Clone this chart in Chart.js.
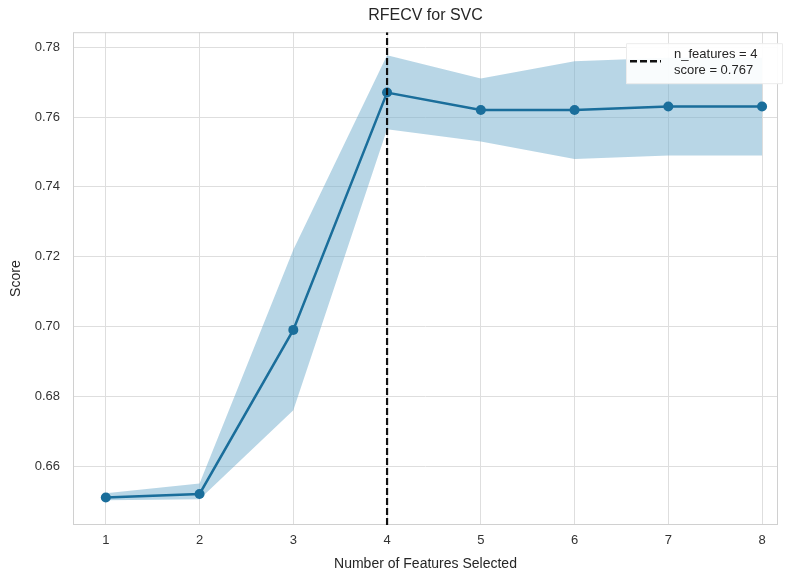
<!DOCTYPE html>
<html>
<head>
<meta charset="utf-8">
<script src="https://cdn.jsdelivr.net/npm/chart.js@4.4.1/dist/chart.umd.min.js"></script>
<style>
  html, body { margin: 0; padding: 0; background: #fff; }
  #wrap { width: 790px; height: 573px; }
</style>
</head>
<body>
<div id="wrap"><canvas id="rfecvChart"></canvas></div>
<script>
// Values
const features = [1, 2, 3, 4, 5, 6, 7, 8];
const meanScores = [0.651, 0.652, 0.699, 0.767, 0.762, 0.762, 0.763, 0.763];
const upperScores = [0.6522, 0.655, 0.722, 0.7777, 0.771, 0.776, 0.777, 0.777];
const lowerScores = [0.6502, 0.6505, 0.676, 0.7565, 0.753, 0.748, 0.749, 0.749];
const yTicks = [0.66, 0.68, 0.70, 0.72, 0.74, 0.76, 0.78];
const bestN = 4;
const bestScore = 0.767;
const xLimits = [0.65, 8.17];
const yLimits = [0.6431, 0.7843];

const FONT = "'Liberation Sans', Arial, sans-serif";
const lineBlue = "#1a6e9b";
const bandFill = "rgba(113, 174, 205, 0.5)";

const toPoints = (ys) => features.map((x, i) => ({ x: x, y: ys[i] }));

// Legend box drawn inside the plot (top right)
const legendBox = {
    id: "legendBox",
    afterDraw(chart) {
        const ctx = chart.ctx;
        const area = chart.chartArea;
        const right = area.right + 4;
        const left = right - 156;
        const top = area.top + 11;
        const h = 40;
        ctx.save();
        ctx.fillStyle = "rgba(255,255,255,0.92)";
        ctx.strokeStyle = "#ececec";
        ctx.lineWidth = 1;
        ctx.beginPath();
        ctx.rect(left + 0.5, top + 0.5, right - left, h);
        ctx.fill();
        ctx.stroke();

        ctx.strokeStyle = "#111";
        ctx.lineWidth = 2.5;
        ctx.setLineDash([7, 3]);
        ctx.beginPath();
        ctx.moveTo(left + 4, top + 18);
        ctx.lineTo(left + 35, top + 18);
        ctx.stroke();
        ctx.setLineDash([]);

        ctx.fillStyle = "#262626";
        ctx.font = "13px " + FONT;
        ctx.textBaseline = "middle";
        ctx.textAlign = "left";
        ctx.fillText("n_features = " + bestN, left + 48, top + 11);
        ctx.fillText("score = " + bestScore.toFixed(3), left + 48, top + 27);
        ctx.restore();
    }
};

// Border around the plotting area
const plotBorder = {
    id: "plotBorder",
    beforeDatasetsDraw(chart) {
        const { ctx, chartArea: a } = chart;
        ctx.save();
        ctx.strokeStyle = "#d0d0d0";
        ctx.lineWidth = 1;
        ctx.strokeRect(a.left + 0.5, a.top + 0.5, a.width - 1, a.height - 1);
        ctx.restore();
    }
};

const ctx = document.getElementById("rfecvChart").getContext("2d");

new Chart(ctx, {
    type: "line",
    data: {
        datasets: [
            {
                label: "lower",
                data: toPoints(lowerScores),
                borderWidth: 0,
                pointRadius: 0,
                fill: false,
                tension: 0,
                order: 3
            },
            {
                label: "upper",
                data: toPoints(upperScores),
                borderWidth: 0,
                pointRadius: 0,
                backgroundColor: bandFill,
                fill: "-1",
                tension: 0,
                order: 3
            },
            {
                label: "mean",
                data: toPoints(meanScores),
                borderColor: lineBlue,
                backgroundColor: lineBlue,
                borderWidth: 2.5,
                pointRadius: 5,
                pointBorderWidth: 0,
                pointBackgroundColor: lineBlue,
                fill: false,
                tension: 0,
                order: 2
            },
            {
                label: "n_features = " + bestN,
                data: [{ x: bestN, y: yLimits[0] }, { x: bestN, y: yLimits[1] }],
                borderColor: "#111",
                borderWidth: 2.2,
                borderDash: [7, 3],
                pointRadius: 0,
                fill: false,
                order: 1
            }
        ]
    },
    options: {
        responsive: true,
        maintainAspectRatio: false,
        animation: false,
        layout: { padding: { left: 8, right: 12, top: 0, bottom: 0 } },
        scales: {
            x: {
                type: "linear",
                min: xLimits[0],
                max: xLimits[1],
                afterBuildTicks: (scale) => {
                    scale.ticks = features.map((v) => ({ value: v }));
                },
                afterFit: (scale) => { scale.height = 48; },
                grid: { color: "#dedede", lineWidth: 1, drawTicks: false },
                border: { display: false },
                ticks: {
                    color: "#333",
                    font: { family: FONT, size: 13 },
                    padding: 8,
                    callback: (v) => v
                },
                title: {
                    display: true,
                    text: "Number of Features Selected",
                    color: "#262626",
                    font: { family: FONT, size: 14 },
                    padding: { top: 0, bottom: 0 }
                }
            },
            y: {
                min: yLimits[0],
                max: yLimits[1],
                afterBuildTicks: (scale) => {
                    scale.ticks = yTicks.map((v) => ({ value: v }));
                },
                afterFit: (scale) => { scale.width = 65; },
                grid: { color: "#dedede", lineWidth: 1, drawTicks: false },
                border: { display: false },
                ticks: {
                    color: "#333",
                    font: { family: FONT, size: 13 },
                    padding: 13,
                    callback: (v) => v.toFixed(2)
                },
                title: {
                    display: true,
                    text: "Score",
                    color: "#262626",
                    font: { family: FONT, size: 14 },
                    padding: { top: 0, bottom: 4 }
                }
            }
        },
        plugins: {
            legend: { display: false },
            tooltip: { enabled: false },
            title: {
                display: true,
                text: "RFECV for SVC",
                fullSize: false,
                color: "#262626",
                font: { family: FONT, size: 16, weight: "normal" },
                padding: { top: 6, bottom: 7 }
            }
        }
    },
    plugins: [plotBorder, legendBox]
});
</script>
</body>
</html>
